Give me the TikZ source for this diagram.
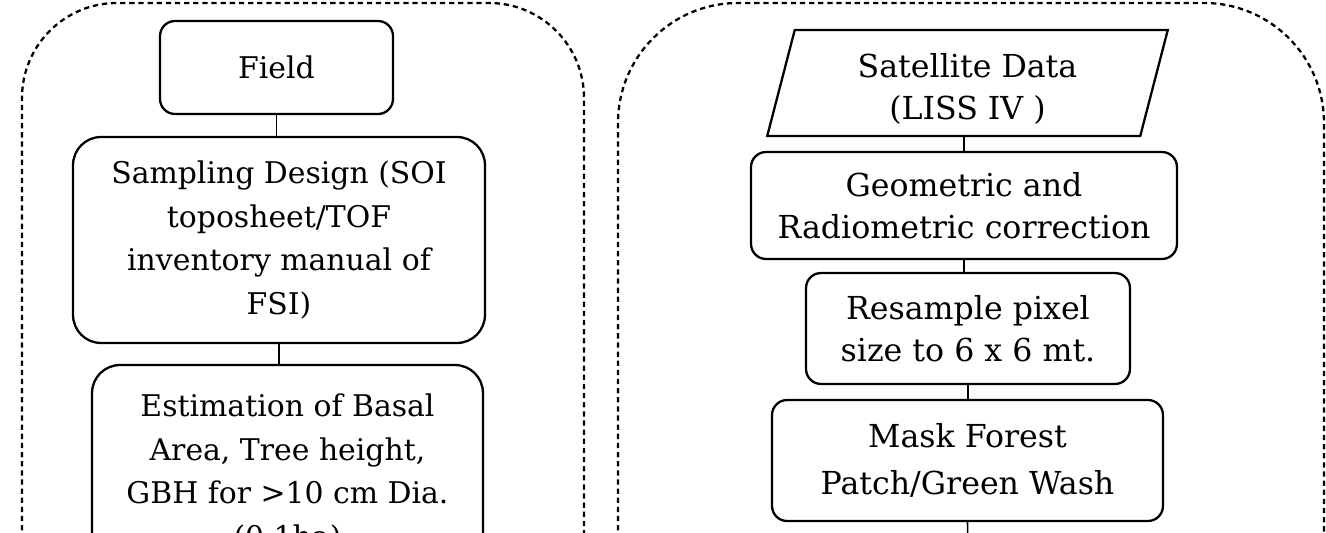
\documentclass[tikz,border=0pt]{standalone}
\usepackage{fontspec}
\setmainfont{DejaVu Serif}
\usetikzlibrary{shapes.geometric}

\begin{document}
\begin{tikzpicture}[
		x=0.02cm, y=-0.02cm,
		every node/.style={draw, line width=1.3pt, align=center, inner sep=0pt, font=\fontsize{17}{25}\selectfont},
		stepbox/.style={rectangle, rounded corners=0.3cm, font=\fontsize{18}{24}\selectfont},
		bigbox/.style={rectangle, rounded corners=0.56cm},
		databox/.style={trapezium, trapezium left angle=78, trapezium right angle=102, trapezium stretches=true, font=\fontsize{18}{24}\selectfont},
		groupbox/.style={line width=1.3pt, dash pattern=on 3pt off 2.2pt},
		link/.style={line width=0.9pt}
	]
  \useasboundingbox (0,0) rectangle (1326,533);
  \clip (0,0) rectangle (1326,533);
  \draw [groupbox, rounded corners=1.9cm] (22,640) -- (22,3) -- (584,3) -- (584,640);
  \draw [groupbox, rounded corners=2.4cm] (618,640) -- (618,3) -- (1324,3) -- (1324,640);
  \node (field) [bigbox, rounded corners=0.3cm, minimum width=4.66cm, minimum height=1.86cm] at (276.5, 67.5) {Field};
  \node (sampling) [bigbox, minimum width=8.24cm, minimum height=4.12cm] at (279, 240) {Sampling Design (SOI\\toposheet/TOF\\inventory manual of\\FSI)};
  \node (estimation) [bigbox, minimum width=7.82cm, minimum height=4.32cm] at (287.5, 473) {Estimation of Basal\\Area, Tree height,\\GBH for >10 cm Dia.\\(0.1ha)};
  \node (satellite) [databox, minimum width=8.02cm, minimum height=2.12cm] at (967.5, 83) {\rule{0pt}{20pt}Satellite Data\\(LISS IV )};
  \node (geometric) [stepbox, minimum width=8.52cm, minimum height=2.14cm] at (964, 205.5) {Geometric and\\Radiometric correction};
  \node (resample) [stepbox, minimum width=6.48cm, minimum height=2.22cm] at (968, 328.5) {Resample pixel\\size to 6 x 6 mt.};
  \node (mask) [stepbox, font=\fontsize{18}{26.5}\selectfont, minimum width=7.82cm, minimum height=2.42cm] at (967.5, 460.5) {Mask Forest\\Patch/Green Wash};
  \coordinate (maskout) at (968, 560);
  \draw [link] (field.south) -- (field.south |- sampling.north);
  \draw [link] (sampling.south) -- (sampling.south |- estimation.north);
  \draw [link] (geometric.north) -- (geometric.north |- satellite.south);
  \draw [link] (geometric.south) -- (geometric.south |- resample.north);
  \draw [link] (resample.south) -- (resample.south |- mask.north);
  \draw [link] (mask.south) -- (maskout);
\end{tikzpicture}
\end{document}
